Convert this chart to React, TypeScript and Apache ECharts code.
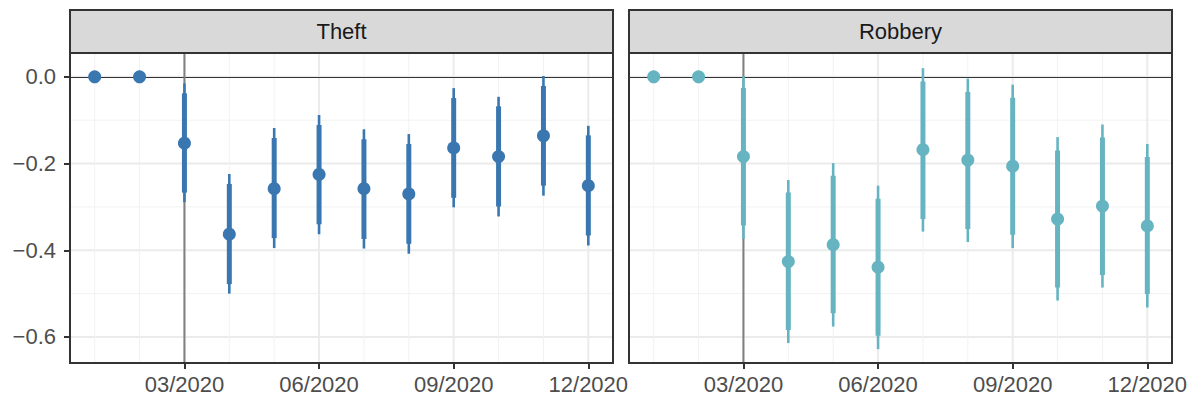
import React, { useEffect, useRef } from "react";
import * as echarts from "echarts";

// ---- data ----
const months = [1, 2, 3, 4, 5, 6, 7, 8, 9, 10, 11, 12];
const xTickMonths = [3, 6, 9, 12];
const yTicks = [0, -0.2, -0.4, -0.6];
const yMinorGrid = [-0.1, -0.3, -0.5];
const panels = ["Theft", "Robbery"];

const theftEst = [0, 0, -0.153, -0.363, -0.258, -0.225, -0.258, -0.27, -0.164, -0.184, -0.136, -0.251];
const theftInnerLo = [null, null, -0.267, -0.478, -0.372, -0.34, -0.374, -0.385, -0.279, -0.299, -0.251, -0.366];
const theftInnerHi = [null, null, -0.038, -0.247, -0.141, -0.111, -0.144, -0.155, -0.049, -0.068, -0.021, -0.135];
const theftOuterLo = [null, null, -0.289, -0.5, -0.395, -0.363, -0.396, -0.408, -0.301, -0.322, -0.274, -0.389];
const theftOuterHi = [null, null, -0.015, -0.224, -0.118, -0.088, -0.121, -0.132, -0.026, -0.046, 0.002, -0.113];

const robberyEst = [0, 0, -0.184, -0.426, -0.387, -0.439, -0.168, -0.192, -0.206, -0.328, -0.298, -0.344];
const robberyInnerLo = [null, null, -0.343, -0.584, -0.545, -0.597, -0.328, -0.351, -0.364, -0.486, -0.457, -0.501];
const robberyInnerHi = [null, null, -0.026, -0.267, -0.228, -0.281, -0.011, -0.035, -0.048, -0.17, -0.14, -0.185];
const robberyOuterLo = [null, null, -0.374, -0.614, -0.576, -0.628, -0.357, -0.381, -0.395, -0.516, -0.486, -0.532];
const robberyOuterHi = [null, null, 0.002, -0.238, -0.199, -0.251, 0.02, -0.004, -0.018, -0.139, -0.11, -0.155];

const hRefLines = [0];
const vRefLines = [3];

const colors = ["#3A77B0", "#66B4C1"];

const FONT = "'Liberation Sans', Arial, Helvetica, sans-serif";

export default function App() {
  const ref = useRef<HTMLDivElement>(null);
  useEffect(() => {
    if (!ref.current) return;
    const chart = echarts.init(ref.current, undefined, { renderer: "svg" });

    const gridLeft = [70, 629];
    const gridTop = 53;
    const gridW = 543;
    const gridH = 310;
    const stripTop = 10;

    const seriesData = [
      { est: theftEst, iLo: theftInnerLo, iHi: theftInnerHi, oLo: theftOuterLo, oHi: theftOuterHi },
      { est: robberyEst, iLo: robberyInnerLo, iHi: robberyInnerHi, oLo: robberyOuterLo, oHi: robberyOuterHi },
    ];

    const fmtMonth = (v: number) => String(Math.round(v)).padStart(2, "0") + "/2020";

    const grids: any[] = [];
    const xAxes: any[] = [];
    const yAxes: any[] = [];
    const series: any[] = [];
    const graphics: any[] = [];

    panels.forEach((name, i) => {
      grids.push({ left: gridLeft[i], top: gridTop, width: gridW, height: gridH, containLabel: false });
      xAxes.push({
        type: "value",
        gridIndex: i,
        position: "bottom",
        min: 0.45,
        max: 12.55,
        axisLine: { show: false, onZero: false },
        splitLine: { show: false },
        axisTick: { show: true, length: 6, customValues: xTickMonths, lineStyle: { color: "#333333", width: 2 } },
        axisLabel: {
          customValues: xTickMonths,
          formatter: (v: number) => fmtMonth(v),
          color: "#4d4d4d",
          fontSize: 22,
          fontFamily: FONT,
          margin: 10,
          hideOverlap: false,
        },
      });
      yAxes.push({
        type: "value",
        gridIndex: i,
        position: "left",
        min: -0.66,
        max: 0.055,
        axisLine: { show: false, onZero: false },
        splitLine: { show: false },
        axisTick: { show: i === 0, length: 6, customValues: yTicks, lineStyle: { color: "#333333", width: 2 } },
        axisLabel: {
          show: i === 0,
          customValues: yTicks,
          formatter: (v: number) => (v < 0 ? "\u2212" : "") + Math.abs(v).toFixed(1),
          color: "#4d4d4d",
          fontSize: 22,
          fontFamily: FONT,
          margin: 14,
        },
      });

      // grid lines (horizontal)
      const hGrid = [
        ...yTicks.map((v) => [v, 1]),
        ...yMinorGrid.map((v) => [v, 0]),
      ];
      series.push({
        type: "custom",
        xAxisIndex: i,
        yAxisIndex: i,
        z: 1,
        silent: true,
        data: hGrid,
        encode: { y: 0 },
        renderItem: (params: any, api: any) => {
          const cs = params.coordSys;
          const y = api.coord([1, api.value(0)])[1];
          const major = api.value(1) === 1;
          return {
            type: "line",
            shape: { x1: cs.x, y1: y, x2: cs.x + cs.width, y2: y },
            style: { stroke: major ? "#ebebeb" : "#f2f2f2", lineWidth: major ? 2 : 1 },
          };
        },
      });
      // grid lines (vertical)
      const vGrid = months.map((m) => [m, xTickMonths.includes(m) ? 1 : 0]);
      series.push({
        type: "custom",
        xAxisIndex: i,
        yAxisIndex: i,
        z: 1,
        silent: true,
        data: vGrid,
        encode: { x: 0 },
        renderItem: (params: any, api: any) => {
          const cs = params.coordSys;
          const x = api.coord([api.value(0), 0])[0];
          const major = api.value(1) === 1;
          return {
            type: "line",
            shape: { x1: x, y1: cs.y, x2: x, y2: cs.y + cs.height },
            style: { stroke: major ? "#ebebeb" : "#f2f2f2", lineWidth: major ? 2 : 1 },
          };
        },
      });
      // reference lines
      series.push({
        type: "custom",
        xAxisIndex: i,
        yAxisIndex: i,
        z: 2,
        silent: true,
        data: hRefLines.map((v) => [v]),
        encode: { y: 0 },
        renderItem: (params: any, api: any) => {
          const cs = params.coordSys;
          const y = Math.round(api.coord([1, api.value(0)])[1]) + 0.5;
          return {
            type: "line",
            shape: { x1: cs.x, y1: y, x2: cs.x + cs.width, y2: y },
            style: { stroke: "#333333", lineWidth: 1 },
          };
        },
      });
      series.push({
        type: "custom",
        xAxisIndex: i,
        yAxisIndex: i,
        z: 2,
        silent: true,
        data: vRefLines.map((v) => [v]),
        encode: { x: 0 },
        renderItem: (params: any, api: any) => {
          const cs = params.coordSys;
          const x = api.coord([api.value(0), 0])[0];
          return {
            type: "line",
            shape: { x1: x, y1: cs.y, x2: x, y2: cs.y + cs.height },
            style: { stroke: "#808080", lineWidth: 2 },
          };
        },
      });

      const d = seriesData[i];
      const color = colors[i];
      const barData = months
        .map((m, k) => [m, d.oLo[k], d.oHi[k], d.iLo[k], d.iHi[k]])
        .filter((r) => r[1] !== null);
      series.push({
        type: "custom",
        xAxisIndex: i,
        yAxisIndex: i,
        z: 3,
        silent: true,
        data: barData,
        encode: { x: 0, y: [1, 2] },
        renderItem: (params: any, api: any) => {
          const x = api.value(0);
          const a = api.coord([x, api.value(1)]);
          const b = api.coord([x, api.value(2)]);
          const c = api.coord([x, api.value(3)]);
          const e = api.coord([x, api.value(4)]);
          return {
            type: "group",
            children: [
              { type: "line", shape: { x1: a[0], y1: a[1], x2: b[0], y2: b[1] }, style: { stroke: color, lineWidth: 2.6 } },
              { type: "line", shape: { x1: c[0], y1: c[1], x2: e[0], y2: e[1] }, style: { stroke: color, lineWidth: 5 } },
            ],
          };
        },
      });
      series.push({
        type: "scatter",
        xAxisIndex: i,
        yAxisIndex: i,
        z: 4,
        symbol: "circle",
        symbolSize: 13,
        itemStyle: { color, opacity: 1 },
        data: months.map((m, k) => [m, d.est[k]]),
      });

      // strip + border
      graphics.push({
        type: "rect",
        z: 100,
        shape: { x: gridLeft[i], y: stripTop, width: gridW, height: gridTop - stripTop },
        style: { fill: "#d9d9d9", stroke: "#333333", lineWidth: 2 },
      });
      graphics.push({
        type: "text",
        z: 101,
        x: gridLeft[i] + gridW / 2,
        y: (stripTop + gridTop) / 2,
        style: {
          text: name,
          fill: "#1a1a1a",
          font: `22px ${FONT}`,
          align: "center",
          verticalAlign: "middle",
        },
      });
      graphics.push({
        type: "rect",
        z: 100,
        shape: { x: gridLeft[i], y: gridTop, width: gridW, height: gridH },
        style: { fill: "none", stroke: "#333333", lineWidth: 2 },
      });
    });

    chart.setOption({
      animation: false,
      backgroundColor: "#ffffff",
      grid: grids,
      xAxis: xAxes,
      yAxis: yAxes,
      series,
      graphic: graphics,
    });
    return () => chart.dispose();
  }, []);
  return (
    <div
      ref={ref}
      style={{ position: "fixed", left: 0, top: 0, width: 1198, height: 402 }}
    />
  );
}
